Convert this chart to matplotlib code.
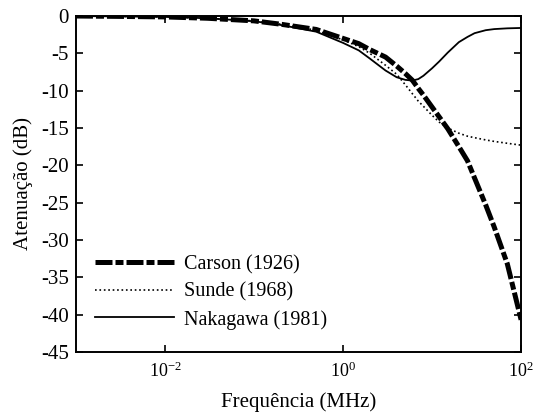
import numpy as np
import matplotlib
matplotlib.use('Agg')
import matplotlib.pyplot as plt
from matplotlib.ticker import FixedLocator, LogFormatterMathtext, NullLocator

# Serif font similar to the reference (Times-like)
plt.rcParams['font.family'] = ['Liberation Serif', 'DejaVu Serif']
plt.rcParams['mathtext.fontset'] = 'custom'
plt.rcParams['mathtext.rm'] = 'Liberation Serif'
plt.rcParams['mathtext.it'] = 'Liberation Serif:italic'

# Frequency points (MHz) and attenuation values (dB)
freq = [0.001, 0.003, 0.01, 0.03, 0.1, 0.2, 0.5, 1, 1.5, 2, 3, 4, 5, 6, 7, 8,
        10, 12, 15, 20, 25, 30, 40, 50, 70, 100]
carson = [0, -0.05, -0.12, -0.3, -0.65, -1.1, -1.8, -3.0, -3.7, -4.5, -5.5,
          -6.7, -7.7, -8.6, -9.7, -10.6, -12.2, -13.5, -15.1, -17.5, -19.4,
          -21.7, -25.3, -28.3, -33.2, -40.7]
sunde = [0, -0.05, -0.12, -0.3, -0.65, -1.1, -1.9, -3.2, -4.1, -5.0, -6.6,
         -7.8, -9.2, -10.4, -11.4, -12.1, -13.3, -14.2, -15.0, -15.7, -16.1,
         -16.3, -16.6, -16.8, -17.05, -17.3]
nakagawa = [0, -0.05, -0.12, -0.3, -0.7, -1.2, -2.1, -3.6, -4.6, -5.7, -7.3,
            -8.2, -8.55, -8.65, -8.45, -8.0, -7.0, -6.1, -4.9, -3.5, -2.8,
            -2.3, -1.9, -1.75, -1.65, -1.6]

labels = ['Carson (1926)', 'Sunde (1968)', 'Nakagawa (1981)']
xticks = [1e-2, 1e0, 1e2]
yticks = [0, -5, -10, -15, -20, -25, -30, -35, -40, -45]

fig = plt.figure(figsize=(5.4, 4.15), dpi=100)
ax = fig.add_axes([0.1407, 0.152, 0.8243, 0.8094])

ax.plot(freq, carson, color='black', linewidth=3.6,
        dashes=(3.4, 0.6, 1.6, 0.6), label=labels[0])
ax.plot(freq, sunde, color='black', linewidth=1.2,
        linestyle=':', label=labels[1])
ax.plot(freq, nakagawa, color='black', linewidth=1.3,
        linestyle='-', label=labels[2])

ax.set_xscale('log')
ax.set_xlim(1e-3, 1e2)
ax.set_ylim(-45, 0)
ax.xaxis.set_major_locator(FixedLocator(xticks))
ax.xaxis.set_major_formatter(LogFormatterMathtext())
ax.xaxis.set_minor_locator(NullLocator())
ax.set_yticks(yticks)
ax.set_yticklabels([str(v) for v in yticks])

ax.tick_params(direction='in', top=True, right=True, length=5, width=1.2)
ax.tick_params(axis='x', labelsize=13, pad=7)
ax.tick_params(axis='y', labelsize=15, pad=5)
for s in ax.spines.values():
    s.set_linewidth(1.4)

ax.set_xlabel('Frequência (MHz)', fontsize=15, labelpad=8)
ax.set_ylabel('Atenuação (dB)', fontsize=15, labelpad=6)

ax.legend(loc='upper left', frameon=False, handlelength=3.9,
          handletextpad=0.5, labelspacing=0.4, fontsize=14.5,
          borderpad=0.4, borderaxespad=0,
          bbox_to_anchor=(0.025, 0.312))

fig.savefig('out.png', dpi=100)
